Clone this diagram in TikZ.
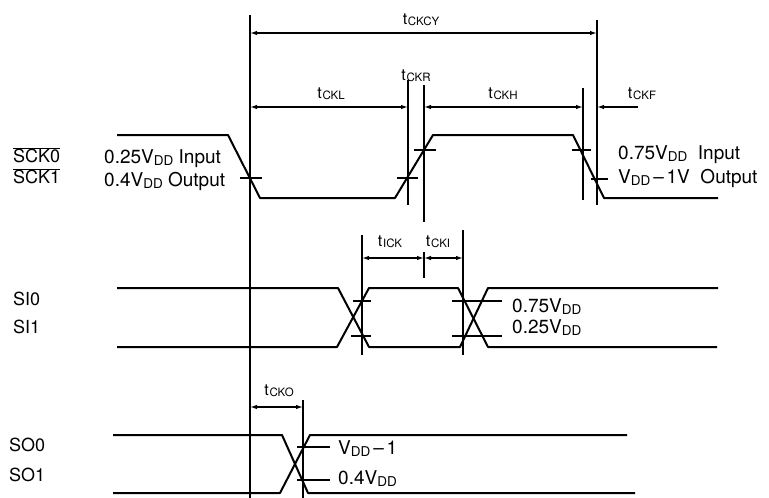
\documentclass[tikz,border=0pt]{standalone}
\usepackage{fontspec}
\setmainfont{TeX Gyre Heros}
\usetikzlibrary{arrows.meta}
\newcommand{\tsub}[1]{t\kern0.8pt\raisebox{-0.5pt}{\fontsize{11.5}{12}\selectfont #1}}
\newcommand{\vdd}{V\raisebox{-2pt}{\fontsize{13.5}{14}\selectfont DD}}
\newcommand{\ovl}[1]{$\overline{\mbox{#1}}$}
\begin{document}
\begin{tikzpicture}[x=1pt,y=-1pt,
  wave/.style={line width=2pt, line join=round},
  guide/.style={line width=1.5pt},
  tickmark/.style={line width=1.5pt},
  dim/.style={line width=1.3pt,{Latex[length=7pt,width=4.5pt]}-{Latex[length=7pt,width=4.5pt]}},
  dimr/.style={line width=1.3pt,-{Latex[length=7pt,width=4.5pt]}},
  lbl/.style={font=\fontsize{19}{20}\selectfont, inner sep=0pt, anchor=west},
  sig/.style={font=\fontsize{18}{19}\selectfont, inner sep=0pt, anchor=west},
  tlbl/.style={font=\fontsize{16}{17}\selectfont, inner sep=0pt}]
\useasboundingbox (0,0) rectangle (769,498);

% guide lines
\coordinate (g0t) at (250,15);  \coordinate (g0b) at (250,498);
\coordinate (g1t) at (408,80);  \coordinate (g1b) at (408,205);
\coordinate (g2t) at (424,85);  \coordinate (g2b) at (424,222);
\coordinate (g3t) at (583,88);  \coordinate (g3b) at (583,200);
\coordinate (g4t) at (597,20);  \coordinate (g4b) at (597,205);
\coordinate (g5t) at (362,235); \coordinate (g5b) at (362,355);
\coordinate (g6t) at (463,230); \coordinate (g6b) at (463,355);
\coordinate (g7t) at (424,252); \coordinate (g7b) at (424,278);
\coordinate (g8t) at (303,400); \coordinate (g8b) at (303,498);
\foreach \a in {0,...,8} \draw[guide] (g\a t) -- (g\a b);

% dimension arrows
\coordinate (cy1) at (250,33);  \coordinate (cy2) at (597,33);
\coordinate (l1) at (250,107);  \coordinate (l2) at (408,107);
\coordinate (h1) at (424,107);  \coordinate (h2) at (583,107);
\coordinate (f1) at (638,107);  \coordinate (f2) at (597,107);
\coordinate (i1) at (362,258);  \coordinate (i2) at (424,258);
\coordinate (i3) at (463,258);
\coordinate (o1) at (250,407);  \coordinate (o2) at (303,407);
\draw[dim] (cy1) -- (cy2);
\draw[dim] (l1) -- (l2);
\draw[dim] (h1) -- (h2);
\draw[dimr] (f1) -- (f2);
\draw[dim] (i1) -- (i2);
\draw[dim] (i2) -- (i3);
\draw[dim] (o1) -- (o2);

% timing labels
\node[tlbl] (tcy) at (421,20) {\tsub{CKCY}};
\node[tlbl] (tl)  at (331,94) {\tsub{CKL}};
\node[tlbl] (tr)  at (416,76) {\tsub{CKR}};
\node[tlbl] (th)  at (503,94) {\tsub{CKH}};
\node[tlbl] (tf)  at (642,94) {\tsub{CKF}};
\node[tlbl] (tik) at (390,242) {\tsub{ICK}};
\node[tlbl] (tki) at (438,242) {\tsub{CKI}};
\node[tlbl] (tko) at (279,391) {\tsub{CKO}};

% SCK waveform
\draw[wave] (117,135) -- (228,135) -- (260,198) -- (395,198) -- (433,135)
  -- (573,135) -- (604,198) -- (718,198);
\draw[tickmark] (240,178) -- (262,178);
\draw[tickmark] (397,178) -- (418,178);
\draw[tickmark] (414,150) -- (436,150);
\draw[tickmark] (572,150) -- (591,150);
\draw[tickmark] (591,179) -- (608,179);

% SI waveform
\draw[wave] (117,288) -- (338,288) -- (369,347) -- (460,347) -- (488,288) -- (718,288);
\draw[wave] (117,347) -- (337,347) -- (369,288) -- (458,288) -- (488,347) -- (717,347);
\draw[tickmark] (353,301) -- (371,301);
\draw[tickmark] (351,336) -- (371,336);
\draw[tickmark] (452,301) -- (502,301);
\draw[tickmark] (452,336) -- (502,336);

% SO waveform
\draw[wave] (113,435) -- (282,435) -- (308,493) -- (635,493);
\draw[wave] (113,493) -- (280,493) -- (310,435) -- (627,435);
\draw[tickmark] (297,447) -- (330,447);
\draw[tickmark] (297,480) -- (330,480);

% level labels
\node[lbl] (a1) at (104,159) {0.25\vdd{} Input};
\node[lbl] (a2) at (104,181) {0.4\vdd{} Output};
\node[lbl] (b1) at (618,155) {0.75\vdd{}\ \ Input};
\node[lbl] (b2) at (618,178) {\vdd{}$\,$--$\,$1V\ \ Output};
\node[lbl] (c1) at (512,307) {0.75\vdd};
\node[lbl] (c2) at (512,328) {0.25\vdd};
\node[lbl] (d1) at (338,449) {\vdd{}$\,$--$\,$1};
\node[lbl] (d2) at (338,479) {0.4\vdd};

% signal names
\node[sig] (s0) at (13,155) {\ovl{SCK0}};
\node[sig] (s1) at (13,176) {\ovl{SCK1}};
\node[sig] (s2) at (13,299) {SI0};
\node[sig] (s3) at (13,327) {SI1};
\node[sig] (s4) at (9,445) {SO0};
\node[sig] (s5) at (9,475) {SO1};
\end{tikzpicture}
\end{document}
